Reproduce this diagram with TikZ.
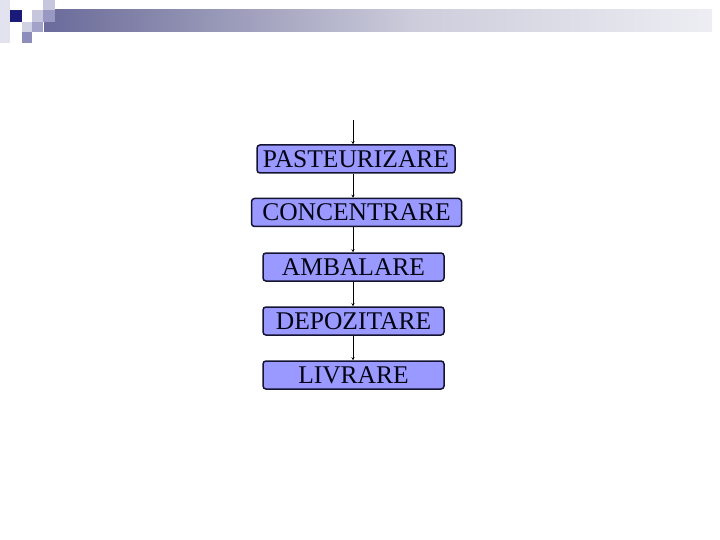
\documentclass[tikz,border=0pt]{standalone}
\usepackage{fontspec}
\setmainfont{Liberation Serif}
\usetikzlibrary{arrows.meta}
\definecolor{navy}{RGB}{26,26,120}
\definecolor{bmid}{RGB}{120,120,162}
\definecolor{blight}{RGB}{205,205,220}
\definecolor{bpale}{RGB}{240,240,245}
\definecolor{boxfill}{RGB}{153,153,255}
\definecolor{boxline}{RGB}{20,20,50}
\pgfdeclarehorizontalshading{banner}{100bp}{
  color(0bp)=(navy); color(29bp)=(bmid); color(53bp)=(blight); color(77bp)=(bpale); color(97bp)=(white); color(100bp)=(white)}
\tikzset{
  stepbox/.style={draw=boxline, line width=1.5pt, fill=boxfill, rounded corners=3pt,
    minimum height=28pt, inner sep=0pt, text=black!85!navy, font=\fontsize{25.5}{27}\selectfont},
  flow/.style={draw=black, line width=0.9pt, -{Stealth[length=3pt,width=3pt]}}
}
\begin{document}
\begin{tikzpicture}[x=1pt,y=-1pt]
\useasboundingbox (0,0) rectangle (720,540);
% banner decoration
\fill[navy!12!white] (0,0) rectangle (10,43);
\shade[shading=banner] (44,10) rectangle (712,32);
\fill[navy] (10,10) rectangle (22,22);
\fill[navy!25!white] (32,10) rectangle (43,22);
\fill[navy!25!white] (43,0) rectangle (55,10);
\fill[navy!45!white] (43,10) rectangle (55,22);
\fill[navy!20!white] (22,22) rectangle (32,32);
\fill[navy!40!white] (32,22) rectangle (43,32);
\fill[navy!50!white] (22,32) rectangle (32,43);
% boxes
\node[stepbox, minimum width=198pt] (p) at (356,159) {PASTEURIZARE};
\node[stepbox, minimum width=210pt] (c) at (356.5,212.5) {CONCENTRARE};
\node[stepbox, minimum width=181pt] (a) at (353.5,267) {AMBALARE};
\node[stepbox, minimum width=181pt] (d) at (353.5,321) {DEPOZITARE};
\node[stepbox, minimum width=181pt] (l) at (353.5,375) {LIVRARE};
\coordinate (start) at (353,120);
\draw[flow] (start) -- (start |- p.north);
\draw[flow] (start |- p.south) -- (start |- c.north);
\draw[flow] (start |- c.south) -- (start |- a.north);
\draw[flow] (start |- a.south) -- (start |- d.north);
\draw[flow] (start |- d.south) -- (start |- l.north);
\end{tikzpicture}
\end{document}
